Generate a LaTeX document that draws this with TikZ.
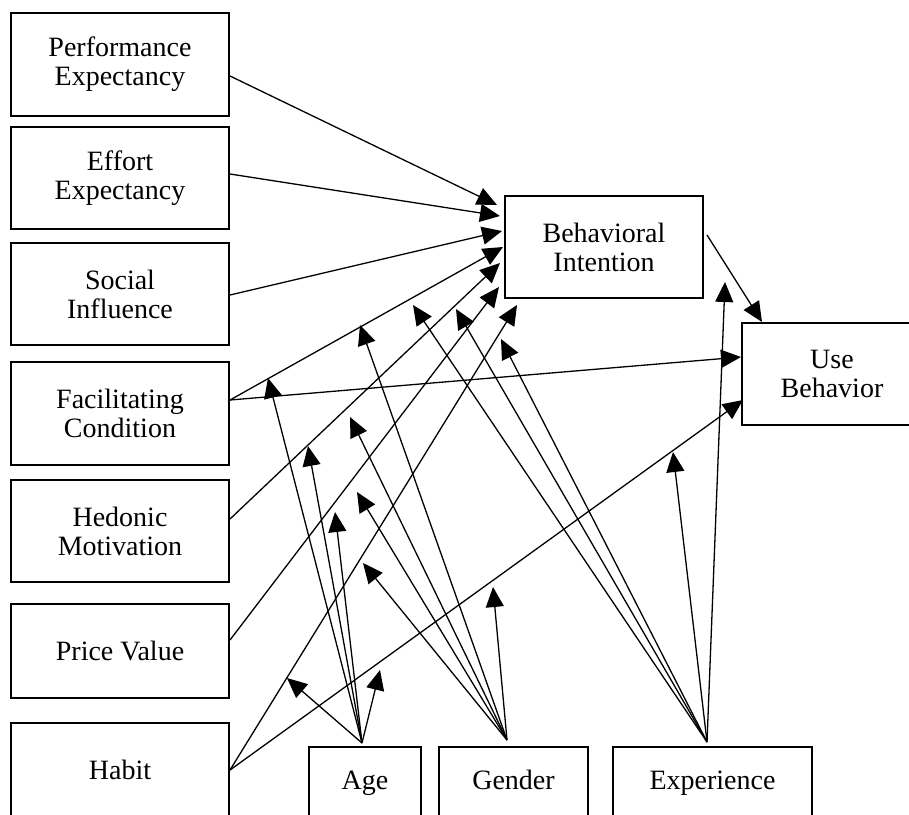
\documentclass[tikz,border=0pt]{standalone}
\usepackage{fontspec}
\setmainfont{Liberation Serif}
\usetikzlibrary{arrows.meta}
\begin{document}
\begin{tikzpicture}[x=0.5pt,y=-0.5pt,
  box/.style={draw, line width=0.75pt, inner sep=0pt, align=center,
    font=\fontsize{14}{14.5}\selectfont},
  modbox/.style={box, minimum height=36pt, text height=9.5pt, text depth=3pt},
  arr/.style={line width=0.65pt, -{Triangle[length=10pt,width=9pt]}}]
\clip (0,0) rectangle (909,814);
\fill[white] (0,0) rectangle (909,814);
% left boxes
\node[box, minimum width=109pt, minimum height=51.5pt] (pe) at (120,64.5) {Performance\\Expectancy};
\node[box, minimum width=109pt, minimum height=51pt] (ee) at (120,178) {Effort\\Expectancy};
\node[box, minimum width=109pt, minimum height=51pt] (si) at (120,294) {Social\\Influence};
\node[box, minimum width=109pt, minimum height=51.5pt] (fc) at (120,413.5) {Facilitating\\Condition};
\node[box, minimum width=109pt, minimum height=51pt] (hm) at (120,531) {Hedonic\\Motivation};
\node[box, minimum width=109pt, minimum height=47pt] (pv) at (120,651) {Price Value};
\node[box, minimum width=109pt, minimum height=47pt] (hb) at (120,770) {Habit};
% outcome boxes
\node[box, minimum width=99pt, minimum height=51pt] (bi) at (604,247) {Behavioral\\Intention};
\node[box, minimum width=90pt, minimum height=51pt] (ub) at (832,374) {Use\\Behavior};
% moderators
\node[modbox, minimum width=56pt] (age) at (365,783) {Age};
\node[modbox, minimum width=74.5pt] (gen) at (513.5,783) {Gender};
\node[modbox, minimum width=99.5pt] (exp) at (712.5,783) {Experience};
% start points on box edges
\coordinate (peo) at (230,76);
\coordinate (eeo) at (230,174);
\coordinate (sio) at (230,295);
\coordinate (fco) at (230,400);
\coordinate (hmo) at (230,519);
\coordinate (pvo) at (230,640);
\coordinate (hbo) at (230,770);
\coordinate (bio) at (707,235);
\coordinate (ageo) at (362,743);
\coordinate (geno) at (507,740);
\coordinate (expo) at (707,742);
% arrow tips
\coordinate (t1) at (497,205);
\coordinate (t2) at (500,216);
\coordinate (t3) at (502,231);
\coordinate (t4) at (503,247);
\coordinate (t5) at (500,263);
\coordinate (t6) at (499,287);
\coordinate (t7) at (517,305);
\coordinate (u1) at (741,357);
\coordinate (u2) at (743,400);
\coordinate (u3) at (762,322);
\coordinate (a1) at (268,378);
\coordinate (a2) at (308,446);
\coordinate (a3) at (335,512);
\coordinate (a4) at (287,678);
\coordinate (a5) at (380,670);
\coordinate (g1) at (360,325);
\coordinate (g2) at (350,417);
\coordinate (g3) at (357,492);
\coordinate (g4) at (363,563);
\coordinate (g5) at (493,587);
\coordinate (e1) at (413,305);
\coordinate (e2) at (456,309);
\coordinate (e3) at (501,339);
\coordinate (e4) at (673,452);
\coordinate (e5) at (725,282);
% predictors to BI
\draw[arr] (peo) -- (t1);
\draw[arr] (eeo) -- (t2);
\draw[arr] (sio) -- (t3);
\draw[arr] (fco) -- (t4);
\draw[arr] (hmo) -- (t5);
\draw[arr] (pvo) -- (t6);
\draw[arr] (hbo) -- (t7);
% to UB
\draw[arr] (fco) -- (u1);
\draw[arr] (hbo) -- (u2);
\draw[arr] (bio) -- (u3);
% age
\foreach \t in {a1,a2,a3,a4,a5} \draw[arr] (ageo) -- (\t);
% gender
\foreach \t in {g1,g2,g3,g4,g5} \draw[arr] (geno) -- (\t);
% experience
\foreach \t in {e1,e2,e3,e4,e5} \draw[arr] (expo) -- (\t);
\end{tikzpicture}
\end{document}
